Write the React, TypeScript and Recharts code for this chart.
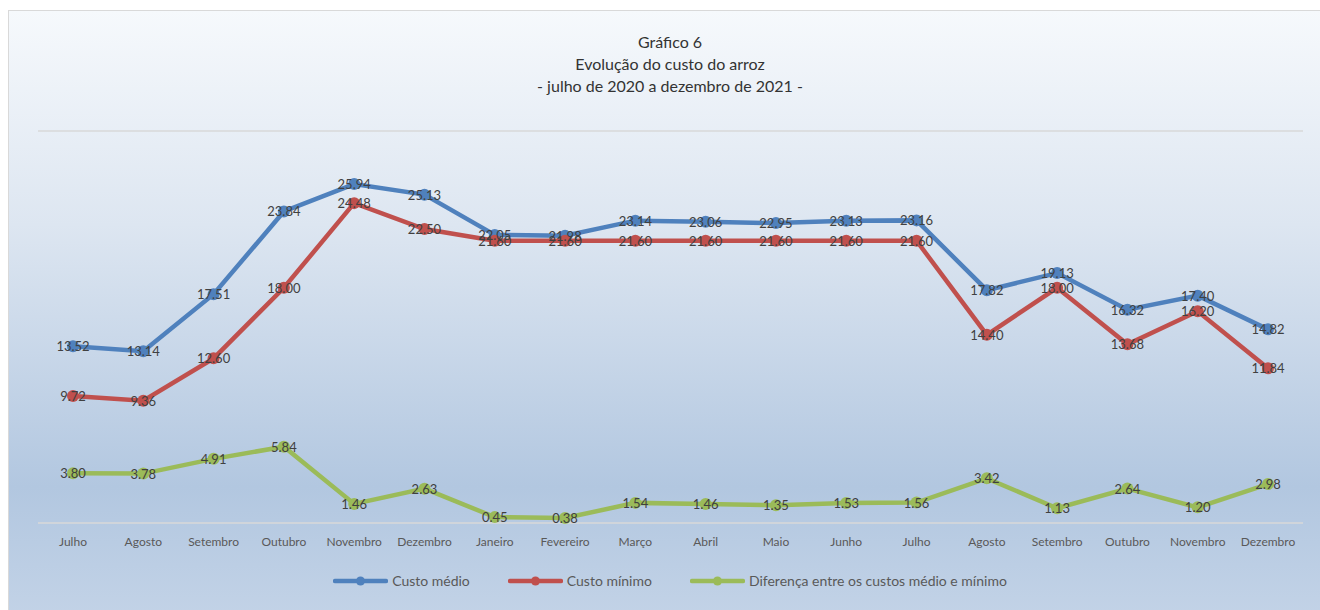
import React from 'react';
import { LineChart, Line, XAxis, YAxis, CartesianGrid, LabelList } from 'recharts';

const months = [
  'Julho', 'Agosto', 'Setembro', 'Outubro', 'Novembro', 'Dezembro',
  'Janeiro', 'Fevereiro', 'Março', 'Abril', 'Maio', 'Junho',
  'Julho', 'Agosto', 'Setembro', 'Outubro', 'Novembro', 'Dezembro',
];

const custoMedio = [13.52, 13.14, 17.51, 23.84, 25.94, 25.13, 22.05, 21.98, 23.14, 23.06, 22.95, 23.13, 23.16, 17.82, 19.13, 16.32, 17.4, 14.82];
const custoMinimo = [9.72, 9.36, 12.6, 18.0, 24.48, 22.5, 21.6, 21.6, 21.6, 21.6, 21.6, 21.6, 21.6, 14.4, 18.0, 13.68, 16.2, 11.84];
const diferenca = [3.8, 3.78, 4.91, 5.84, 1.46, 2.63, 0.45, 0.38, 1.54, 1.46, 1.35, 1.53, 1.56, 3.42, 1.13, 2.64, 1.2, 2.98];

const yTicks = [0, 5, 10, 15, 20, 25, 30];

const series = [
  { key: 'medio', name: 'Custo médio', color: '#4f81bd' },
  { key: 'minimo', name: 'Custo mínimo', color: '#c0504d' },
  { key: 'dif', name: 'Diferença entre os custos médio e mínimo', color: '#9bbb59' },
];

const data = months.map((m, i) => ({
  idx: i,
  month: m,
  medio: custoMedio[i],
  minimo: custoMinimo[i],
  dif: diferenca[i],
}));

const FONT = 'Lato, "Open Sans", sans-serif';

const renderValue = (props: any) => {
  const { x, y, value } = props;
  return (
    <text x={x} y={y} textAnchor="middle" dominantBaseline="central" fontSize={13} fill="#404040" fontFamily={FONT}>
      {Number(value).toFixed(2)}
    </text>
  );
};

const LegendIcon = ({ color }: { color: string }) => (
  <svg width={55} height={12} style={{ display: 'block' }}>
    <line x1={2} y1={6} x2={53} y2={6} stroke={color} strokeWidth={4.5} strokeLinecap="round" />
    <circle cx={27.5} cy={6} r={4.5} fill={color} />
  </svg>
);

export default function App() {
  return (
    <>
      <style>{'html,body{margin:0;overflow:hidden;}'}</style>
      <div
        style={{
          position: 'absolute',
          left: 8,
          top: 10,
          width: 1320,
          height: 610,
          border: '1px solid #d9d9d9',
          background: 'linear-gradient(to bottom, #f6f9fc 0%, #dde6f1 35%, #b2c7e0 78%, #c3d3e7 100%)',
          fontFamily: FONT,
        }}
      >
        <div
          style={{
            position: 'absolute',
            left: 0,
            top: 20,
            width: 1322,
            textAlign: 'center',
            fontSize: 16,
            lineHeight: '22px',
            color: '#333',
          }}
        >
          <div>Gráfico 6</div>
          <div>Evolução do custo do arroz</div>
          <div>- julho de 2020 a dezembro de 2021 -</div>
        </div>

        <div style={{ position: 'absolute', left: 0, top: 0 }}>
          <LineChart width={1311} height={600} data={data} margin={{ top: 120, right: 17, bottom: 58, left: 29 }}>
            <CartesianGrid vertical={false} stroke="#d9d9d9" strokeWidth={1.5} />
            <XAxis
              dataKey="idx"
              tickFormatter={(i: number) => months[i]}
              axisLine={false}
              tickLine={false}
              tickMargin={8}
              interval={0}
              height={30}
              padding={{ left: 35, right: 35 }}
              tick={{ fontSize: 12, fill: '#595959', fontFamily: FONT }}
            />
            <YAxis domain={[0, 30]} ticks={yTicks} width={0} tick={false} axisLine={false} tickLine={false} />
            {series.map((s) => (
              <Line
                key={s.key}
                dataKey={s.key}
                name={s.name}
                stroke={s.color}
                strokeWidth={4.5}
                dot={{ r: 6, fill: s.color, stroke: s.color, strokeWidth: 0 }}
                activeDot={false}
                isAnimationActive={false}
              >
                <LabelList dataKey={s.key} content={renderValue} />
              </Line>
            ))}
          </LineChart>
        </div>

        <div
          style={{
            position: 'absolute',
            left: 0,
            top: 561,
            width: 1322,
            display: 'flex',
            justifyContent: 'center',
            alignItems: 'center',
            gap: 38,
            fontSize: 14,
            color: '#595959',
          }}
        >
          {series.map((s) => (
            <div key={s.key} style={{ display: 'flex', alignItems: 'center', gap: 4 }}>
              <LegendIcon color={s.color} />
              <span>{s.name}</span>
            </div>
          ))}
        </div>
      </div>
    </>
  );
}
